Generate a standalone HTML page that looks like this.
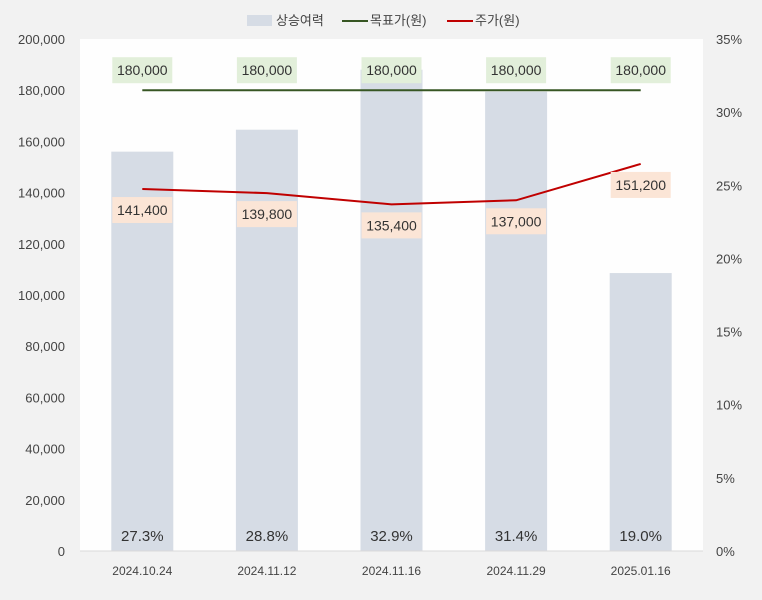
<!DOCTYPE html>
<html><head><meta charset="utf-8"><style>
body{margin:0;background:#f2f2f2;font-family:"Liberation Sans","Noto Sans CJK KR",sans-serif;}
svg text{font-family:"Liberation Sans","Noto Sans CJK KR",sans-serif;}
</style></head><body>
<svg id="c" width="762" height="595" xmlns="http://www.w3.org/2000/svg">
<rect x="0" y="0" width="762" height="595" fill="#f2f2f2"/>
<rect x="80" y="39" width="623" height="512" fill="#fefefe"/>
<g id="legend">
<rect x="247" y="15" width="25" height="11" fill="#d6dce5"/>
<text x="276" y="25" font-size="13" fill="#444">상승여력</text>
<line x1="342" y1="21" x2="368" y2="21" stroke="#375623" stroke-width="2"/>
<text x="370" y="25" font-size="13" fill="#444">목표가(원)</text>
<line x1="447" y1="21" x2="473" y2="21" stroke="#c00000" stroke-width="2"/>
<text x="475" y="25" font-size="13" fill="#444">주가(원)</text>
</g>
</svg>
<script>
const categories=["2024.10.24","2024.11.12","2024.11.16","2024.11.29","2025.01.16"];
const upside=[27.3,28.8,32.9,31.4,19.0];
const target=[180000,180000,180000,180000,180000];
const price=[141400,139800,135400,137000,151200];
const leftTicks=[0,20000,40000,60000,80000,100000,120000,140000,160000,180000,200000];
const rightTicks=[0,5,10,15,20,25,30,35];
const svg=document.getElementById('c');const NS='http://www.w3.org/2000/svg';
const x0=80,x1=703,yb=551,yt=39;
const band=(x1-x0)/categories.length;
const xc=i=>x0+band*(i+0.5);
const yL=v=>yb-v/200000*(yb-yt);
const yR=v=>yb-v/35*(yb-yt);
function mk(t,a,txt){const e=document.createElementNS(NS,t);for(const k in a)e.setAttribute(k,a[k]);if(txt!=null)e.textContent=txt;svg.appendChild(e);return e;}
const fmt=v=>v.toLocaleString('en-US');
leftTicks.forEach(v=>{const e=mk('text',{x:65,y:yL(v)+5,'font-size':13,fill:'#444','text-anchor':'end'},fmt(v));

});
rightTicks.forEach(v=>{const e=mk('text',{x:716,y:yR(v)+5,'font-size':13,fill:'#444'},v+'%');

});
const bw=62;
upside.forEach((v,i)=>{const b=mk('rect',{x:xc(i)-bw/2,y:yR(v),width:bw,height:yb-yR(v),fill:'#d6dce5'});


const t=mk('text',{x:xc(i),y:yb-10,'font-size':15,fill:'#333','text-anchor':'middle'},v.toFixed(1)+'%');

});
const ax=mk('line',{x1:x0,y1:yb,x2:x1,y2:yb,stroke:'#d9d9d9'});


categories.forEach((c,i)=>{const t=mk('text',{x:xc(i),y:575,'font-size':12,fill:'#444','text-anchor':'middle'},c);

});
const tl=mk('polyline',{points:target.map((v,i)=>xc(i)+','+yL(v)).join(' '),fill:'none',stroke:'#375623','stroke-width':2});


const pl=mk('polyline',{points:price.map((v,i)=>xc(i)+','+yL(v)).join(' '),fill:'none',stroke:'#c00000','stroke-width':2});


target.forEach((v,i)=>{const y=yL(v)-20;const r=mk('rect',{x:xc(i)-30,y:y-13,width:60,height:26,fill:'#e2efda'});


const t=mk('text',{x:xc(i),y:y+5,'font-size':14,fill:'#333','text-anchor':'middle'},fmt(v));

});
price.forEach((v,i)=>{const y=yL(v)+21;const r=mk('rect',{x:xc(i)-30,y:y-13,width:60,height:26,fill:'#fbe5d6'});


const t=mk('text',{x:xc(i),y:y+5,'font-size':14,fill:'#333','text-anchor':'middle'},fmt(v));

});
</script>
</body></html>
